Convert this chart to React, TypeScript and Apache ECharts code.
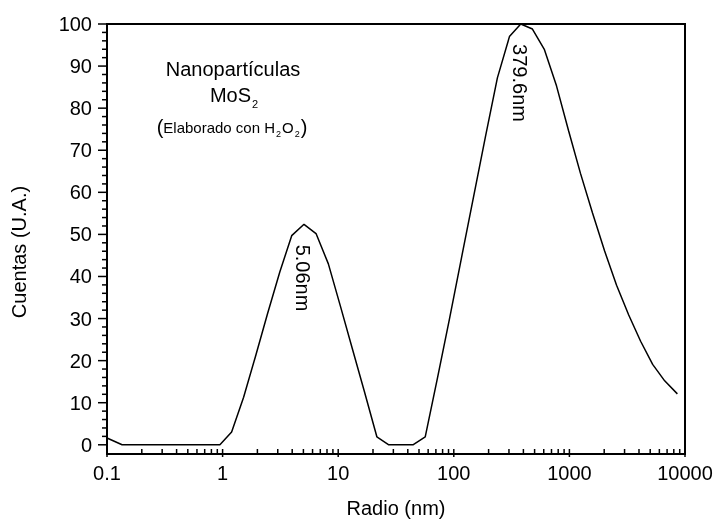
import { useEffect, useRef } from 'react';
import * as echarts from 'echarts';

// Radio (nm) and Cuentas (U.A.)
const radio = [0.1, 0.135, 0.948, 1.197, 1.52, 1.93, 2.45, 3.12, 3.96, 5.06, 6.43, 8.22, 10.39, 13.2, 16.8, 21.6, 27.4, 34.9, 44.3, 56.6, 71.9, 91.4, 116.1, 147.6, 187.5, 238.3, 302.9, 379.6, 478.9, 608.4, 773.3, 982.6, 1247, 1585, 2014, 2559, 3252, 4132, 5250, 6670, 8590];
const cuentas = [1.6, 0, 0, 3.05, 11.3, 21.1, 31.2, 41.0, 49.7, 52.4, 50.2, 43.0, 33.2, 23.0, 12.8, 1.9, 0, 0, 0, 1.9, 15.6, 29.7, 44.2, 58.7, 73.1, 87.2, 97.0, 100, 98.8, 93.9, 85.3, 74.7, 64.5, 55.1, 46.1, 37.9, 30.9, 24.6, 19.1, 15.2, 12.1];

const xMajorTicks = [0.1, 1, 10, 100, 1000, 10000];
const xMinorTicks = [0.2, 0.3, 0.4, 0.5, 0.6, 0.7, 0.8, 0.9, 2, 3, 4, 5, 6, 7, 8, 9, 20, 30, 40, 50, 60, 70, 80, 90, 200, 300, 400, 500, 600, 700, 800, 900, 2000, 3000, 4000, 5000, 6000, 7000, 8000, 9000];
const yMajorTicks = [0, 10, 20, 30, 40, 50, 60, 70, 80, 90, 100];
const yMinorTicks = [2, 4, 6, 8, 12, 14, 16, 18, 22, 24, 26, 28, 32, 34, 36, 38, 42, 44, 46, 48, 52, 54, 56, 58, 62, 64, 66, 68, 72, 74, 76, 78, 82, 84, 86, 88, 92, 94, 96, 98];

const peakLabels = ['5.06nm', '379.6nm'];

const X_MIN = 0.1;
const X_MAX = 10000;
const Y_MIN = -1;
const Y_MAX = 100;

const FONT = "'Liberation Sans', Arial, sans-serif";

export default function App() {
  const ref = useRef<HTMLDivElement>(null);
  useEffect(() => {
    if (!ref.current) return;
    const chart = echarts.init(ref.current, null, { renderer: 'svg' });
    const black = '#000';

    // tick data: [value, length]
    const xTickData = [...xMajorTicks.map((v) => [v, 8]), ...xMinorTicks.map((v) => [v, 4])];
    const yTickData = [...yMajorTicks.map((v) => [v, 9]), ...yMinorTicks.map((v) => [v, 5])];

    chart.setOption({
      animation: false,
      textStyle: { fontFamily: FONT, color: black },
      grid: { left: 107, right: 32, top: 24, bottom: 69 },
      xAxis: {
        type: 'log', logBase: 10, min: X_MIN, max: X_MAX,
        name: 'Radio (nm)', nameLocation: 'middle', nameGap: 49,
        nameTextStyle: { fontSize: 20, color: black, fontFamily: FONT },
        axisLine: { show: false, onZero: false },
        axisTick: { show: false },
        axisLabel: { fontSize: 20, color: black, fontFamily: FONT, margin: 14, formatter: (v: number) => String(v) },
        splitLine: { show: false },
      },
      yAxis: {
        type: 'value', min: Y_MIN, max: Y_MAX,
        axisLine: { show: false, onZero: false },
        axisTick: { show: false },
        axisLabel: { customValues: yMajorTicks, fontSize: 20, color: black, fontFamily: FONT, margin: 15 },
        splitLine: { show: false },
      },
      series: [
        {
          type: 'line',
          data: radio.map((r, i) => [r, cuentas[i]]),
          symbol: 'none',
          lineStyle: { color: black, width: 1.5 },
          z: 3,
        },
        {
          type: 'custom',
          coordinateSystem: 'cartesian2d',
          silent: true,
          data: xTickData,
          renderItem: (params: any, api: any) => {
            const p = api.coord([api.value(0), Y_MIN]);
            const len = api.value(1);
            return { type: 'line', shape: { x1: p[0], y1: p[1], x2: p[0], y2: p[1] + len }, style: { stroke: black, lineWidth: 1.5 } };
          },
        },
        {
          type: 'custom',
          coordinateSystem: 'cartesian2d',
          silent: true,
          data: yTickData.map((d) => [X_MIN, d[0], d[1]]),
          renderItem: (params: any, api: any) => {
            const p = api.coord([X_MIN, api.value(1)]);
            const len = api.value(2);
            return { type: 'line', shape: { x1: p[0] - len, y1: p[1], x2: p[0], y2: p[1] }, style: { stroke: black, lineWidth: 1.5 } };
          },
        },
      ],
      graphic: [
        { type: 'rect', z: 10, shape: { x: 107, y: 24, width: 578, height: 430 }, style: { fill: 'none', stroke: black, lineWidth: 2 } },
        {
          type: 'text', x: 19, y: 252, rotation: Math.PI / 2,
          style: { text: 'Cuentas (U.A.)', fontSize: 20, fontFamily: FONT, fill: black, align: 'center', verticalAlign: 'middle' },
        },
        {
          type: 'text', x: 233, y: 69,
          style: { text: 'Nanopartículas', fontSize: 20, fontFamily: FONT, fill: black, align: 'center', verticalAlign: 'middle' },
        },
        {
          type: 'text', x: 234, y: 95,
          style: {
            text: '{a|MoS}{b|2}', align: 'center', verticalAlign: 'middle', fill: black, fontFamily: FONT,
            rich: {
              a: { fontSize: 20, lineHeight: 28, verticalAlign: 'middle', fontFamily: FONT, fill: black },
              b: { fontSize: 11, lineHeight: 11, verticalAlign: 'bottom', fontFamily: FONT, fill: black, padding: [0, 0, 0, 1] },
            },
          },
        },
        {
          type: 'text', x: 232, y: 127,
          style: {
            text: '{p|(}{t|Elaborado con H}{s|2}{t|O}{s|2}{p|)}', align: 'center', verticalAlign: 'middle', fill: black, fontFamily: FONT,
            rich: {
              p: { fontSize: 20, lineHeight: 23, verticalAlign: 'middle', fontFamily: FONT, fill: black },
              t: { fontSize: 15, lineHeight: 23, verticalAlign: 'middle', fontFamily: FONT, fill: black },
              s: { fontSize: 9, lineHeight: 9, verticalAlign: 'bottom', fontFamily: FONT, fill: black, padding: [0, 1, 0, 1] },
            },
          },
        },
        {
          type: 'text', x: 302.5, y: 278, rotation: -Math.PI / 2,
          style: { text: peakLabels[0], fontSize: 20, fontFamily: FONT, fill: black, align: 'center', verticalAlign: 'middle' },
        },
        {
          type: 'text', x: 520, y: 83, rotation: -Math.PI / 2,
          style: { text: peakLabels[1], fontSize: 20, fontFamily: FONT, fill: black, align: 'center', verticalAlign: 'middle' },
        },
      ],
    });
    return () => chart.dispose();
  }, []);
  return <div ref={ref} style={{ position: 'fixed', left: 0, top: 0, width: 717, height: 523 }} />;
}
